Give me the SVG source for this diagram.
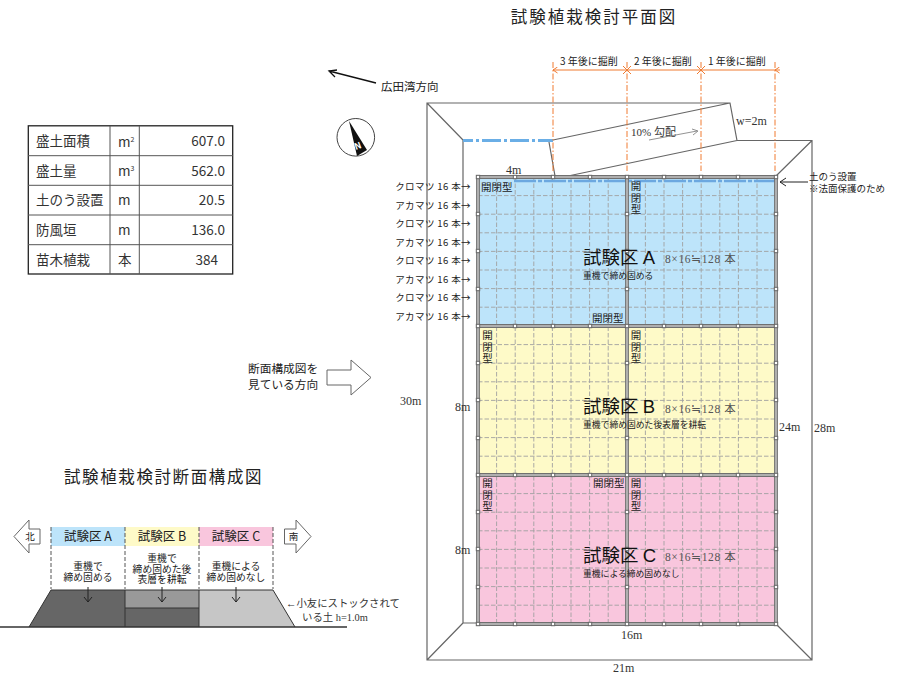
<svg xmlns="http://www.w3.org/2000/svg" width="900" height="675" viewBox="0 0 900 675">
<style>
text{font-family:"Noto Sans CJK JP","Liberation Sans",sans-serif;fill:#222}
.s{font-family:"Liberation Serif","Noto Sans CJK JP",serif;fill:#333}
.l{fill:none;stroke:#666;stroke-width:1.2}
.g{stroke:#a0a0a0;stroke-width:.9;stroke-dasharray:4.500 2;fill:none}
.o{stroke:#f07a30;stroke-width:1;fill:none}
.od{stroke:#f07a30;stroke-width:1;stroke-dasharray:6 2 1.500 2;fill:none}
.f{fill:none;stroke:#707070;stroke-width:3.800}
.fi{fill:none;stroke:#eee;stroke-width:1}
.p{fill:#fff;stroke:#666;stroke-width:1}
.t{stroke:#555;stroke-width:1;fill:none}
.a{stroke:#222;stroke-width:1;fill:none}
.lab{font-size:9.500px;text-anchor:end;letter-spacing:.4px}
.h{font-size:10px}
.z{font-size:18.500px;fill:#111}
.z tspan{font-family:"Liberation Sans",sans-serif}
.n{font-size:8.800px}
.td{font-size:13.500px;fill:#333}
.sec{font-size:9.800px;text-anchor:middle}
.cnt{font-size:11.500px;letter-spacing:.6px;fill:#555}
.v{writing-mode:vertical-rl;letter-spacing:1px}
</style>
<defs>
<marker id="ah" markerWidth="7" markerHeight="7" refX="0.5" refY="3.5" orient="auto"><path d="M5 .5L.5 3.5L5 6.5" fill="none" stroke="#f07a30" stroke-width="1"/></marker>
<g id="post"><rect x="-1.700" y="-1.700" width="3.400" height="3.400" class="p"/></g>
</defs>

<text x="594" y="23" font-size="16.500" letter-spacing="2" text-anchor="middle">試験植栽検討平面図</text>

<g id="berm-outline">
<path class="l" d="M427 103H730L737 140.500H812V660H427ZM427 103L463 140M463 140V623H477M427 660L463 623M776 624L812 660M812 140.500L776 176M553 140L730 103M737 140.500L568 176M549 142L555 176"/>
<path d="M463 140.500H553" stroke="#6aaee6" stroke-width="3" stroke-dasharray="10 3 3 3 19 3 3 3 19 3 3 3 11 0" fill="none"/>
</g>

<g id="zone-a"><rect x="478" y="177" width="298" height="149" fill="#bde4fa"/></g>
<g id="zone-b"><rect x="478" y="326" width="298" height="149" fill="#fefac8"/></g>
<g id="zone-c"><rect x="478" y="475" width="298" height="149" fill="#f9c6dd"/></g>

<g id="planting-grid">
<path class="g" d="M478 195.600H776M478 214.200H776M478 232.800H776M478 251.400H776M478 270H776M478 288.600H776M478 307.200H776M478 344.600H776M478 363.200H776M478 381.800H776M478 400.400H776M478 419H776M478 437.600H776M478 456.200H776M478 493.600H776M478 512.200H776M478 530.800H776M478 549.400H776M478 568H776M478 586.600H776M478 605.200H776"/>
<path class="g" d="M496.600 177V624M515.200 177V624M533.800 177V624M552.400 177V624M571 177V624M589.600 177V624M608.200 177V624M645.400 177V624M664 177V624M682.600 177V624M701.200 177V624M719.800 177V624M738.400 177V624M757 177V624"/>
<path d="M514 181H776" stroke="#6ca8e0" stroke-width="2.500" stroke-dasharray="22 2 4 2" fill="none"/>
</g>

<g id="fence">
<path class="f" d="M478 177H776V624H478ZM478 326H776M478 475H776M627 177V624"/>
<path class="fi" d="M478 177H776V624H478ZM478 326H776M478 475H776M627 177V624"/>
<use href="#post" x="478" y="177"/><use href="#post" x="515" y="177"/><use href="#post" x="553" y="177"/><use href="#post" x="590" y="177"/><use href="#post" x="627" y="177"/><use href="#post" x="664" y="177"/><use href="#post" x="701" y="177"/><use href="#post" x="738" y="177"/><use href="#post" x="776" y="177"/>
<use href="#post" x="478" y="326"/><use href="#post" x="515" y="326"/><use href="#post" x="553" y="326"/><use href="#post" x="590" y="326"/><use href="#post" x="627" y="326"/><use href="#post" x="664" y="326"/><use href="#post" x="701" y="326"/><use href="#post" x="738" y="326"/><use href="#post" x="776" y="326"/>
<use href="#post" x="478" y="475"/><use href="#post" x="515" y="475"/><use href="#post" x="553" y="475"/><use href="#post" x="590" y="475"/><use href="#post" x="627" y="475"/><use href="#post" x="664" y="475"/><use href="#post" x="701" y="475"/><use href="#post" x="738" y="475"/><use href="#post" x="776" y="475"/>
<use href="#post" x="478" y="624"/><use href="#post" x="515" y="624"/><use href="#post" x="553" y="624"/><use href="#post" x="590" y="624"/><use href="#post" x="627" y="624"/><use href="#post" x="664" y="624"/><use href="#post" x="701" y="624"/><use href="#post" x="738" y="624"/><use href="#post" x="776" y="624"/>
<use href="#post" x="478" y="214"/><use href="#post" x="478" y="251"/><use href="#post" x="478" y="289"/><use href="#post" x="627" y="214"/><use href="#post" x="627" y="251"/><use href="#post" x="627" y="289"/><use href="#post" x="776" y="214"/><use href="#post" x="776" y="251"/><use href="#post" x="776" y="289"/>
<use href="#post" x="478" y="363"/><use href="#post" x="478" y="400"/><use href="#post" x="478" y="438"/><use href="#post" x="627" y="363"/><use href="#post" x="627" y="400"/><use href="#post" x="627" y="438"/><use href="#post" x="776" y="363"/><use href="#post" x="776" y="400"/><use href="#post" x="776" y="438"/>
<use href="#post" x="478" y="512"/><use href="#post" x="478" y="549"/><use href="#post" x="478" y="587"/><use href="#post" x="627" y="512"/><use href="#post" x="627" y="549"/><use href="#post" x="627" y="587"/><use href="#post" x="776" y="512"/><use href="#post" x="776" y="549"/><use href="#post" x="776" y="587"/>
</g>

<g id="excavation">
<path class="od" d="M553 62V171M627 62V171M701 62V171M775 62V171"/>
<path class="o" d="M553 70H775" marker-start="url(#ah)"/>
<path class="o" d="M775 70H770" marker-start="url(#ah)" transform="rotate(180 775 70)"/>
<path class="o" d="M623 66L631 74M631 66L623 74M697 66L705 74M705 66L697 74"/>
<text class="h" x="560" y="65">3 年後に掘削</text>
<text class="h" x="634" y="65">2 年後に掘削</text>
<text class="h" x="708" y="65">1 年後に掘削</text>
</g>

<g id="zone-labels">
<text class="z" x="583" y="264">試験区 <tspan>A</tspan></text><text class="n" x="583" y="279">重機で締め固める</text><text class="s cnt" x="665" y="263">8×16≒128 本</text>
<text class="z" x="583" y="413">試験区 <tspan>B</tspan></text><text class="n" x="583" y="428">重機で締め固めた後表層を耕転</text><text class="s cnt" x="665" y="413">8×16≒128 本</text>
<text class="z" x="583" y="562">試験区 <tspan>C</tspan></text><text class="n" x="583" y="577">重機による締め固めなし</text><text class="s cnt" x="665" y="561">8×16≒128 本</text>
</g>

<g id="gate-labels" font-size="10.500">
<text x="481" y="191">開閉型</text>
<text class="v" x="636" y="181">開閉型</text>
<text x="592" y="322">開閉型</text>
<text class="v" x="487.500" y="330">開閉型</text>
<text class="v" x="636" y="330">開閉型</text>
<text x="593" y="487">開閉型</text>
<text class="v" x="487.500" y="478">開閉型</text>
<text class="v" x="636" y="478">開閉型</text>
</g>

<g id="tree-labels">
<text class="lab" x="471" y="190">クロマツ 16 本→</text>
<text class="lab" x="471" y="209">アカマツ 16 本→</text>
<text class="lab" x="471" y="227">クロマツ 16 本→</text>
<text class="lab" x="471" y="246">アカマツ 16 本→</text>
<text class="lab" x="471" y="264">クロマツ 16 本→</text>
<text class="lab" x="471" y="283">アカマツ 16 本→</text>
<text class="lab" x="471" y="301">クロマツ 16 本→</text>
<text class="lab" x="471" y="320">アカマツ 16 本→</text>
</g>

<g id="dimensions" font-size="12">
<text class="s" x="506" y="174">4m</text>
<text class="s" x="400" y="405">30m</text>
<text class="s" x="455" y="411">8m</text>
<text class="s" x="455" y="554">8m</text>
<text class="s" x="779" y="431">24m</text>
<text class="s" x="814" y="432">28m</text>
<text class="s" x="621" y="639">16m</text>
<text class="s" x="613" y="672">21m</text>
<text class="s" x="736" y="125">w=2m</text>
<text class="s" x="631" y="136" font-size="11">10% 勾配</text>
<path d="M649 140L697 131M692 129L698 131L693 135" fill="none" stroke="#777" stroke-width=".8"/>
</g>

<g id="sandbag-note">
<path class="a" d="M808 182H780M786 178L780 182L786 186"/>
<text x="809" y="180" font-size="9.500">土のう設置</text>
<text x="809" y="192" font-size="9.500">※法面保護のため</text>
</g>

<g id="bay-direction">
<path d="M376 83L329 71M337 70L329 71L335 77" fill="none" stroke="#111" stroke-width="1.300"/>
<text x="381" y="91" font-size="11.500">広田湾方向</text>
</g>

<g id="north">
<circle cx="355.800" cy="137.300" r="18.800" fill="#fff" stroke="#444" stroke-width="1"/>
<path d="M349 121L357 156L367 150Z" fill="#111"/>
<text x="358" y="149" font-size="9" font-weight="700" style="fill:#fff" text-anchor="middle" transform="rotate(-20 358 146)">N</text>
</g>

<g id="view-arrow">
<path d="M327 370H351V360L371 377.500L351 395V385H327Z" fill="#fff" stroke="#666"/>
<text x="248" y="373" font-size="11.700">断面構成図を</text>
<text x="248" y="389" font-size="11.700">見ている方向</text>
</g>

<g id="table">
<rect x="28.300" y="125.800" width="204.400" height="148.200" fill="#fff" stroke="#222" stroke-width="1.300"/>
<path class="t" d="M28 155.700H233M28 185.300H233M28 215H233M28 244.700H233M110 126V274M139.300 126V274"/>
<text class="td" x="36" y="146">盛土面積</text><text class="td" x="118" y="147">m<tspan font-size="7" dy="-5">2</tspan></text><text class="td" x="225" y="146" text-anchor="end">607.0</text>
<text class="td" x="36" y="176">盛土量</text><text class="td" x="118" y="176">m<tspan font-size="7" dy="-5">3</tspan></text><text class="td" x="225" y="176" text-anchor="end">562.0</text>
<text class="td" x="36" y="205">土のう設置</text><text class="td" x="118" y="205">m</text><text class="td" x="225" y="205" text-anchor="end">20.5</text>
<text class="td" x="36" y="235">防風垣</text><text class="td" x="118" y="235">m</text><text class="td" x="225" y="235" text-anchor="end">136.0</text>
<text class="td" x="36" y="265">苗木植栽</text><text class="td" x="118" y="265">本</text><text class="td" x="218" y="265" text-anchor="end">384</text>
</g>

<text x="64" y="483" font-size="16.500" letter-spacing="1.600">試験植栽検討断面構成図</text>

<g id="section">
<rect x="51" y="527" width="74" height="19" fill="#bde4fa"/>
<rect x="125" y="527" width="74" height="19" fill="#fefac8"/>
<rect x="199" y="527" width="74" height="19" fill="#f9c6dd"/>
<path d="M51 590H125V627H29Z" fill="#666"/>
<rect x="125" y="590" width="74" height="18" fill="#999"/>
<rect x="125" y="608" width="74" height="19" fill="#666"/>
<path d="M199 590H273L295 627H199Z" fill="#c6c6c6"/>
<path d="M29 627L51 590H273L295 627M125 590V627M199 590V627M125 608H199" fill="none" stroke="#333" stroke-width="1"/>
<path d="M0 627H347" stroke="#333" stroke-width="1.300"/>
<path d="M51 527V589M125 527V589M199 527V589M273 527V589" stroke="#555" stroke-dasharray="4 2" fill="none"/>
<path class="a" d="M88 587V602M84 597L88 602L92 597M162 587V602M158 597L162 602L166 597M236 587V602M232 597L236 602L240 597"/>
<text x="88" y="541" font-size="12.500" text-anchor="middle">試験区 A</text>
<text x="162" y="541" font-size="12.500" text-anchor="middle">試験区 B</text>
<text x="236" y="541" font-size="12.500" text-anchor="middle">試験区 C</text>
<text class="sec" x="88" y="570">重機で<tspan x="88" dy="11">締め固める</tspan></text>
<text class="sec" x="162" y="562">重機で<tspan x="162" dy="10.500">締め固めた後</tspan><tspan x="162" dy="10.500">表層を耕転</tspan></text>
<text class="sec" x="236" y="570">重機による<tspan x="236" dy="11">締め固めなし</tspan></text>
<path d="M14 536.500L29 520V529H40V544H29V553Z" fill="#fff" stroke="#666"/>
<text x="30" y="540" font-size="9.500" text-anchor="middle">北</text>
<path d="M311 536.500L296 520V529H284.500V544H296V553Z" fill="#fff" stroke="#666"/>
<text x="293.500" y="540" font-size="9.500" text-anchor="middle">南</text>
<text class="s" x="286" y="607" font-size="10.400">←小友にストックされて</text>
<text class="s" x="302" y="621" font-size="10.400">いる土 h=1.0m</text>
</g>
</svg>
